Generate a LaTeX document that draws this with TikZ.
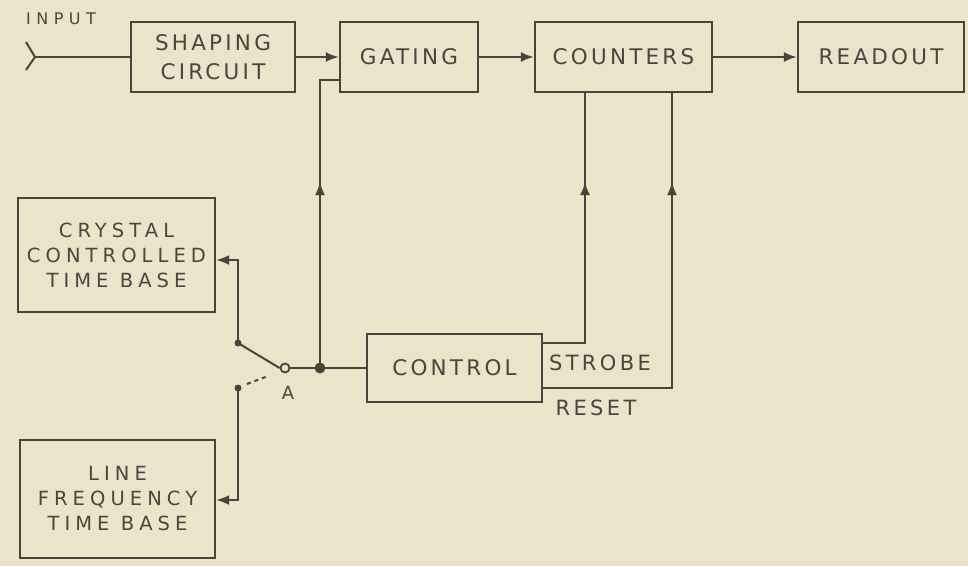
\documentclass[tikz,border=0pt]{standalone}
\usepackage{fontspec}
\setmainfont{DejaVu Sans}
\usetikzlibrary{arrows.meta,decorations.markings}
\definecolor{bgc}{HTML}{ECE3CB}
\definecolor{ink}{HTML}{46453D}
\definecolor{txt}{HTML}{48463F}
\newcommand\lfnt[3]{\fontsize{#1}{#2}\selectfont\addfontfeatures{LetterSpace=#3}}
\tikzset{
  box/.style={draw=ink, line width=2.4pt, align=center, text=txt, inner sep=0pt,
              font=\lfnt{21.5}{29}{15}},
  tbox/.style={box, font=\lfnt{19.5}{25}{26}},
  lbl/.style={text=txt, inner sep=0pt, font=\lfnt{21}{22}{16}},
  wire/.style={draw=ink, line width=2pt},
  tip/.tip={Latex[length=13pt,width=10pt]},
  arr/.style={wire, -tip},
  midarrow/.style={wire, postaction={decorate}, decoration={markings,
     mark=at position #1 with {\arrow{tip}}}},
  dot/.style={circle, fill=ink, inner sep=0pt, minimum size=11pt},
  contact/.style={circle, fill=ink, inner sep=0pt, minimum size=7pt},
  pivot/.style={circle, draw=ink, line width=1.8pt, inner sep=0pt, minimum size=9pt}
}
\begin{document}
\begin{tikzpicture}[x=1pt,y=-1pt]
\fill[bgc] (0,0) rectangle (968,566);
\useasboundingbox (0,0) rectangle (968,566);

% top row
\node[box, minimum width=164pt, minimum height=70pt] (shaping) at (213,57) {SHAPING\\CIRCUIT};
\node[box, minimum width=138pt, minimum height=70pt] (gating) at (409,57) {GATING};
\node[box, minimum width=177pt, minimum height=70pt] (counters) at (623.5,57) {COUNTERS};
\node[box, minimum width=166pt, minimum height=70pt] (readout) at (881,57) {READOUT};

% time bases
\node[tbox, minimum width=197pt, minimum height=114pt] (crystal) at (116.5,255) {CRYSTAL\\CONTROLLED\\TIME BASE};
\node[tbox, minimum width=195pt, minimum height=118pt] (linefreq) at (117.5,499) {LINE\\FREQUENCY\\TIME BASE};

% control
\node[box, minimum width=175pt, minimum height=68pt] (control) at (454.5,368) {CONTROL};

% input
\node[lbl, font=\lfnt{16}{19}{34}] (input) at (61,19) {INPUT};
\coordinate (in1) at (26,42);
\coordinate (in2) at (35,57);
\coordinate (in3) at (26,70);
\draw[wire] (in1) -- (in2) -- (in3);
\draw[wire] (in2) -- (shaping.west);

% top row arrows
\draw[arr] (shaping.east) -- (gating.west);
\draw[arr] (gating.east) -- (counters.west);
\draw[arr] (counters.east) -- (readout.west);

% switch
\node[contact] (U) at (238,343) {};
\node[contact] (L) at (238,388) {};
\node[pivot] (P) at (285,368) {};
\node[dot] (J) at (320,368) {};
\draw[wire] (U.center) -- (P.west);
\coordinate (d1) at (247,384);
\coordinate (d2) at (268,376);
\draw[wire, dash pattern=on 4pt off 4pt] (d1) -- (d2);
\node[lbl, font=\lfnt{18}{20}{0}] (A) at (288,393) {A};

\coordinate (c1) at (238,260);
\draw[arr] (U.center) -- (c1) -- (c1 -| crystal.east);
\coordinate (l1) at (238,500);
\draw[arr] (L.center) -- (l1) -- (l1 -| linefreq.east);

\draw[wire] (P.east) -- (J.center) -- (control.west);

% gate enable
\coordinate (g1) at (320,80);
\draw[midarrow=186pt] (J.center) -- (g1) -- (g1 -| gating.west);

% strobe & reset
\coordinate (s0) at (542,343);
\coordinate (s1) at (585,343);
\draw[midarrow=204pt] (s0) -- (s1) -- (s1 |- counters.south);
\coordinate (r0) at (542,388);
\coordinate (r1) at (672,388);
\draw[midarrow=336pt] (r0) -- (r1) -- (r1 |- counters.south);

\node[lbl] (strobe) at (600,363) {STROBE};
\node[lbl] (reset) at (596,408) {RESET};
\end{tikzpicture}
\end{document}
